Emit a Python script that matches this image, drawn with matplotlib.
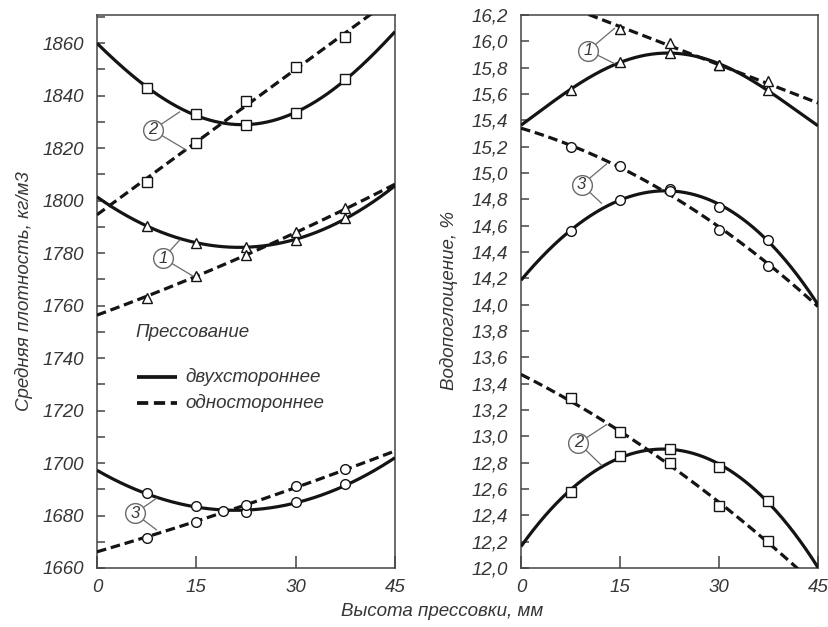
import numpy as np
import matplotlib
matplotlib.use("Agg")
import matplotlib.pyplot as plt
from matplotlib.ticker import MultipleLocator, FuncFormatter, FixedLocator

plt.rcParams["font.family"] = ["Liberation Sans", "DejaVu Sans"]
plt.rcParams["font.style"] = "italic"

# ---- data -------------------------------------------------------------
# sample heights with measured points, mm
x_marks = [7.5, 15, 22.5, 30, 37.5]
# line ends at the start and at the end of the height range (None = off scale)
x_edges = [0, 45]

# average density, kg/m3 ("two" = double-sided pressing, "one" = single-sided)
dens1_two = [1790.3, 1783.9, 1782.4, 1785.0, 1793.2]
dens1_two_edges = [1801.4, 1805.6]
dens1_one = [1762.7, 1771.4, 1779.2, 1788.0, 1797.0]
dens1_one_edges = [1756.8, 1806.0]

dens2_two = [1843.0, 1832.8, 1828.8, 1833.4, 1846.2]
dens2_two_edges = [1860.0, 1864.3]
dens2_one = [1807.0, 1822.0, 1838.0, 1851.0, 1862.4]
dens2_one_edges = [1795.0, None]

dens3_two_x = [7.5, 15, 19, 22.5, 30, 37.5]
dens3_two = [1688.7, 1683.6, 1681.8, 1681.4, 1685.0, 1691.9]
dens3_two_edges = [1697.0, 1701.8]
dens3_one = [1671.3, 1677.6, 1684.0, 1691.2, 1697.6]
dens3_one_edges = [1666.6, 1704.3]

# water absorption, %
wat1_two = [15.63, 15.845, 15.914, 15.82, 15.63]
wat1_two_edges = [15.364, 15.357]
wat1_one_x = [15, 22.5, 30, 37.5]
wat1_one = [16.09, 15.99, 15.82, 15.70]
wat1_one_edges = [None, 15.51]

wat2_two = [12.58, 12.853, 12.904, 12.77, 12.51]
wat2_two_edges = [12.167, 12.0]
wat2_one = [13.29, 13.03, 12.795, 12.47, 12.205]
wat2_one_edges = [13.458, None]

wat3_two = [14.56, 14.795, 14.876, 14.744, 14.49]
wat3_two_edges = [14.187, 13.997]
wat3_one = [15.20, 15.05, 14.866, 14.567, 14.29]
wat3_one_edges = [15.34, 14.0]

x_ticks = [0, 15, 30, 45]

# ---- style ------------------------------------------------------------
INK = "#141414"
TXT = "#363636"
GREY = "#6a6a6a"
FS = 13.5
LW = 2.3
DASH = (3.0, 1.5)

W, H = 829, 627
fig = plt.figure(figsize=(W / 100, H / 100), dpi=100)
fig.patch.set_facecolor("white")


def px_axes(left, top, right, bottom):
    return fig.add_axes([left / W, 1 - bottom / H, (right - left) / W, (bottom - top) / H])


axL = px_axes(97, 15, 395, 568)
axR = px_axes(521, 15, 818, 568)


def draw(ax, xm, ym, edges, marker, dashed, deg, ms):
    xs, ys = list(xm), list(ym)
    for xe, ye in zip(x_edges, edges):
        if ye is not None:
            xs.append(xe)
            ys.append(ye)
    coef = np.polyfit(xs, ys, deg)
    xx = np.linspace(x_edges[0], x_edges[1], 400)
    line, = ax.plot(xx, np.polyval(coef, xx), color=INK, lw=LW,
                    solid_capstyle="butt", zorder=3)
    if dashed:
        line.set_dashes(DASH)
        line.set_dash_capstyle("butt")
    ax.plot(xm, ym, ls="none", marker=marker, ms=ms, mfc="white",
            mec=INK, mew=1.0, zorder=4)


# left panel: density
draw(axL, x_marks, dens2_two, dens2_two_edges, "s", False, 4, 7)
draw(axL, x_marks, dens2_one, dens2_one_edges, "s", True, 1, 7)
draw(axL, x_marks, dens1_two, dens1_two_edges, "^", False, 4, 7.5)
draw(axL, x_marks, dens1_one, dens1_one_edges, "^", True, 2, 7.5)
draw(axL, dens3_two_x, dens3_two, dens3_two_edges, "o", False, 3, 7)
draw(axL, x_marks, dens3_one, dens3_one_edges, "o", True, 2, 7)

# right panel: water absorption
draw(axR, x_marks, wat1_two, wat1_two_edges, "^", False, 4, 7.5)
draw(axR, wat1_one_x, wat1_one, wat1_one_edges, "^", True, 1, 7.5)
draw(axR, x_marks, wat3_two, wat3_two_edges, "o", False, 4, 7)
draw(axR, x_marks, wat3_one, wat3_one_edges, "o", True, 2, 7)
draw(axR, x_marks, wat2_two, wat2_two_edges, "s", False, 4, 7)
draw(axR, x_marks, wat2_one, wat2_one_edges, "s", True, 2, 7)

# axes
for ax in (axL, axR):
    ax.set_xlim(0, 45)
    ax.xaxis.set_major_locator(FixedLocator(x_ticks))
    ax.tick_params(axis="both", which="both", direction="in", color="#444444",
                   width=1.1, labelcolor=TXT, labelsize=FS)
    ax.tick_params(axis="x", length=8.5, pad=8)
    ax.tick_params(axis="y", which="both", length=5.5, pad=9.5)
    for s in ax.spines.values():
        s.set_color("#444444")
        s.set_linewidth(1.1)
    for lab in ax.get_xticklabels() + ax.get_yticklabels():
        lab.set_fontstyle("italic")

axL.set_ylim(1660, 1870.7)
axL.yaxis.set_major_locator(MultipleLocator(20))
axL.yaxis.set_minor_locator(MultipleLocator(10))

axR.set_ylim(12.0, 16.2)
axR.yaxis.set_major_locator(MultipleLocator(0.2))
axR.yaxis.set_major_formatter(FuncFormatter(lambda v, p: f"{v:.1f}".replace(".", ",")))

# circled curve numbers with leader lines
callouts = [
    (axL, "2", (8.4, 1826.9), [(12.5, 1833.8), (13.5, 1819.2)]),
    (axL, "1", (10.0, 1778.0), [(12.5, 1785.0), (14.5, 1771.2)]),
    (axL, "3", (5.7, 1680.8), [(9.0, 1686.6), (9.0, 1674.5)]),
    (axR, "1", (10.2, 15.93), [(14.2, 16.10), (14.2, 15.83)]),
    (axR, "3", (9.2, 14.91), [(13.0, 15.07), (12.2, 14.77)]),
    (axR, "2", (8.7, 12.95), [(13.0, 13.09), (12.2, 12.78)]),
]
for ax, num, c, targets in callouts:
    ax.plot([c[0]], [c[1]], ls="none", marker="o", ms=14.2, mfc="white",
            mec=GREY, mew=1.0, zorder=6)
    ax.text(c[0], c[1], num, ha="center", va="center", fontsize=12,
            color=TXT, zorder=7)
    for t in targets:
        ax.annotate("", xy=t, xytext=c,
                    arrowprops=dict(arrowstyle="-", color=GREY, lw=0.9,
                                    shrinkA=7.1, shrinkB=0, patchA=None),
                    zorder=5)

# legend
axL.text(0.1275, 0.425, "Прессование", transform=axL.transAxes, ha="left",
         va="center", fontsize=FS, color=TXT)
axL.plot([0.134, 0.268], [0.346, 0.346], transform=axL.transAxes, color=INK,
         lw=LW + 0.4, solid_capstyle="butt")
dl, = axL.plot([0.134, 0.268], [0.299, 0.299], transform=axL.transAxes,
               color=INK, lw=LW + 0.4)
dl.set_dashes(DASH)
axL.text(0.295, 0.346, "двухстороннее", transform=axL.transAxes, ha="left",
         va="center", fontsize=FS, color=TXT)
axL.text(0.295, 0.299, "одностороннее", transform=axL.transAxes, ha="left",
         va="center", fontsize=FS, color=TXT)

# axis titles
fig.text(24 / W, 1 - 291 / H, "Средняя плотность, кг/м3", rotation=90,
         ha="center", va="center", fontsize=FS, color=TXT)
fig.text(449 / W, 1 - 301 / H, "Водопоглощение, %", rotation=90,
         ha="center", va="center", fontsize=FS, color=TXT)
fig.text(442 / W, 1 - 612 / H, "Высота прессовки, мм", ha="center",
         va="center", fontsize=FS, color=TXT)

fig.savefig("out.png", dpi=100, facecolor="white")
